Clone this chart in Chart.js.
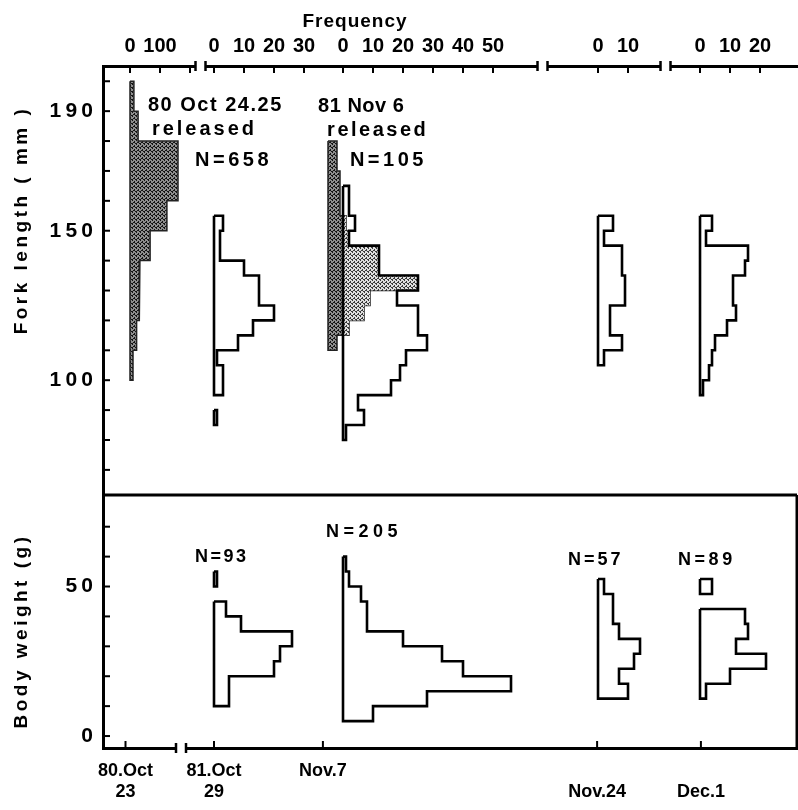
<!DOCTYPE html>
<html>
<head>
<meta charset="utf-8">
<script src="https://cdn.jsdelivr.net/npm/chart.js@4.4.1/dist/chart.umd.min.js"></script>
<style>
  body { margin: 0; background: #fff; }
  canvas { display: block; }
</style>
</head>
<body>
<canvas id="grafico" width="798" height="810"></canvas>
<script>

// Fork length frequencies, top class first
const oct24Len = [13, 27, 160, 160, 123, 67, 33, 30, 22, 10];            // 10 mm classes, from 200 mm
const oct29Len = [3, 2, 2, 10, 15, 15, 20, 13, 8, 1, 3, 3, 0, 1];         // 5 mm classes, from 155 mm
const nov6Len = [3, 3, 4, 4, 4, 6, 7, 17, 17, 30, 14, 12, 7, 3];          // released fish, from 180 mm
const nov7Len = [2, 2, 4, 2, 12, 12, 25, 18, 25, 25, 28, 21, 19, 16, 5, 7, 1]; // from 165 mm
const nov24Len = [5, 2, 8, 8, 9, 9, 4, 4, 8, 2];                          // from 155 mm
const dec1Len = [4, 2, 16, 15, 11, 11, 12, 9, 5, 4, 3, 1];                // from 155 mm

const oct24Top = 200, oct29Top = 155, nov6Top = 180, nov7Top = 165, nov24Top = 155, dec1Top = 155;

// Body weight frequencies, 5 g classes, top class first
const oct29Wt = [1, 0, 4, 9, 26, 22, 20, 5, 5];          // from 55 g
const nov7Wt = [1, 2, 6, 8, 8, 20, 33, 40, 56, 28, 10];  // from 60 g
const nov24Wt = [2, 5, 5, 7, 14, 12, 7, 10];             // from 52.5 g
const dec1Wt = [4, 0, 15, 16, 12, 22, 10, 2];            // from 52.5 g

const oct29WtTop = 55, nov7WtTop = 60, nov24WtTop = 52.5, dec1WtTop = 52.5;

// axes
const lenTicks = [70, 80, 90, 100, 110, 120, 130, 140, 150, 160, 170, 180, 190, 200];
const lenLabels = [190, 150, 100];
const wtTicks = [0, 10, 20, 30, 40, 50, 60, 70];
const wtLabels = [50, 0];
const freqTicks = [[0, 100, 200], [0, 10, 20, 30], [0, 10, 20, 30, 40, 50], [0, 10], [0, 10, 20]];
const freqUnlabelled = [200];
const dateLabels = [['80.Oct', '23'], ['81.Oct', '29'], 'Nov.7', ['', 'Nov.24'], ['', 'Dec.1']];

const topNotes = ['80 Oct 24.25', 'released', 'N=658', '81 Nov 6', 'released', 'N=105'];
const bottomNotes = ['N=93', 'N=205', 'N=57', 'N=89'];

// layout: x is in frequency units, 3 px each
const xMax = 231.33;
const zero = [9, 37, 80, 165, 199];   // where count 0 sits for each sample
const unit = [0.1, 1, 1, 1, 1];       // released stock drawn at 1/10
const releasedZero = 75;
const dateShift = [-1.5, 0, -6.7, -0.3, 0.3];
const breaksTop = [32.5, 146.5, 187.5];
const breaksBottom = [26];
const lenRange = [61.6, 205.1];
const wtRange = [-4, 80.6];
const topNoteAt = [[15, 192], [16.3, 184], [30.7, 173.6], [71.7, 191.7], [74.7, 183.4], [82.3, 173.6]];
const topNoteSpacing = [1.5, 3, 3.5, 0.5, 2.5, 3.5];
const bottomNoteAt = [[30.7, 59.9], [74.3, 68.2], [155, 58.9], [191.7, 58.9]];
const bottomNoteSpacing = [2.5, 4.5, 3, 3.5];

const FONT = '"Liberation Sans", Arial, sans-serif';


function stipple(bg, fg) {
    const c = document.createElement('canvas');
    c.width = c.height = 4;
    const g = c.getContext('2d');
    g.fillStyle = bg;
    g.fillRect(0, 0, 4, 4);
    g.fillStyle = fg;
    [[0, 0], [2, 1], [1, 2], [3, 3], [0, 3], [2, 2]].forEach(p => g.fillRect(p[0], p[1], 1, 1));
    return g.createPattern(c, 'repeat');
}
const dark = stipple('#8e8e8e', '#141414');
const light = stipple('#dedede', '#3a3a3a');


// stepped outline of a sideways histogram; empty classes split it in pieces
function outline(counts, top, w, base, k) {
    const segs = [];
    let seg = null, start = 0, end = 0;
    const close = () => {
        seg.push({x: base, y: end}, {x: base, y: start});
        segs.push(seg);
        seg = null;
    };
    counts.forEach((c, i) => {
        const hi = top - i * w, lo = hi - w;
        if (!c) { if (seg) close(); return; }
        if (!seg) { seg = [{x: base, y: hi}]; start = hi; }
        seg.push({x: base + c * k, y: hi}, {x: base + c * k, y: lo});
        end = lo;
    });
    if (seg) close();
    return segs;
}

function hist(counts, top, w, base, k, yAxisID, style) {
    return outline(counts, top, w, base, k).map(pts => Object.assign({
        data: pts,
        xAxisID: 'x',
        yAxisID: yAxisID,
        showLine: true,
        pointRadius: 0,
        tension: 0,
        fill: false,
        borderColor: '#000',
        borderWidth: 2.6,
        borderJoinStyle: 'miter',
        order: 1
    }, style || {}));
}

const shaded = {fill: 'shape', backgroundColor: dark, borderColor: '#222', borderWidth: 1.5, order: 3};
const overlap = nov6Len.map(c => Math.max(0, c - (zero[2] - releasedZero)));

const datasets = [].concat(
    hist(oct24Len, oct24Top, 10, zero[0], unit[0], 'y', shaded),
    hist(nov6Len, nov6Top, 5, releasedZero, 1, 'y', shaded),
    hist(overlap, nov6Top, 5, zero[2], 1, 'y', {fill: 'shape', backgroundColor: light, borderWidth: 0, order: 2}),
    hist(oct29Len, oct29Top, 5, zero[1], unit[1], 'y'),
    hist(nov7Len, nov7Top, 5, zero[2], unit[2], 'y'),
    hist(nov24Len, nov24Top, 5, zero[3], unit[3], 'y'),
    hist(dec1Len, dec1Top, 5, zero[4], unit[4], 'y'),
    hist(oct29Wt, oct29WtTop, 5, zero[1], unit[1], 'y2'),
    hist(nov7Wt, nov7WtTop, 5, zero[2], unit[2], 'y2'),
    hist(nov24Wt, nov24WtTop, 5, zero[3], unit[3], 'y2'),
    hist(dec1Wt, dec1WtTop, 5, zero[4], unit[4], 'y2')
);

const topTicks = [];
freqTicks.forEach((list, p) => list.forEach(t => {
    topTicks.push({value: zero[p] + t * unit[p], label: freqUnlabelled.includes(t) && p === 0 ? '' : String(t)});
}));

const spaced = v => String(v).split('').join('\u2009');

const tickFont = {family: FONT, weight: 'bold', size: 21};
const noGrid = {drawOnChartArea: false, drawTicks: false};
const axisBorder = {display: true, color: '#000', width: 3};


const frame = {
    id: 'frame',
    afterDraw(chart) {
        const {ctx, chartArea: a} = chart;
        const {x, xTop, y, y2} = chart.scales;
        const line = (x1, y1, x2, y2_) => {
            ctx.beginPath(); ctx.moveTo(x1, y1); ctx.lineTo(x2, y2_); ctx.stroke();
        };
        const text = (s, px, py, size, spacing) => {
            ctx.font = 'bold ' + size + 'px ' + FONT;
            ctx.letterSpacing = spacing + 'px';
            ctx.fillText(s, px, py);
        };
        ctx.save();
        ctx.strokeStyle = '#000';
        ctx.fillStyle = '#000';

        // divider between the panels, right edge of the lower one
        ctx.lineWidth = 3;
        line(a.left, y.bottom, a.right, y.bottom);
        line(a.right, y2.top, a.right, y2.bottom);

        // ticks pointing inwards
        ctx.lineWidth = 2;
        xTop.ticks.forEach(t => { const p = xTop.getPixelForValue(t.value); line(p, a.top, p, a.top + 7); });
        x.ticks.forEach(t => { const p = x.getPixelForValue(t.value); line(p, a.bottom, p, a.bottom - 7); });
        y.ticks.forEach(t => { const p = y.getPixelForValue(t.value); line(a.left, p, a.left + 7, p); });
        y2.ticks.forEach(t => { const p = y2.getPixelForValue(t.value); line(a.left, p, a.left + 7, p); });

        // axis breaks
        const brk = (p, py) => {
            ctx.fillStyle = '#fff';
            ctx.fillRect(p - 5, py - 3, 10, 6);
            ctx.fillStyle = '#000';
            ctx.lineWidth = 2.5;
            line(p - 5, py - 5, p - 5, py + 5);
            line(p + 5, py - 5, p + 5, py + 5);
        };
        breaksTop.forEach(v => brk(xTop.getPixelForValue(v), a.top));
        breaksBottom.forEach(v => brk(x.getPixelForValue(v), a.bottom));

        // labels
        ctx.textBaseline = 'middle';
        ctx.textAlign = 'left';
        topNotes.forEach((s, i) => text(s, x.getPixelForValue(topNoteAt[i][0]), y.getPixelForValue(topNoteAt[i][1]), 20, topNoteSpacing[i]));
        bottomNotes.forEach((s, i) => text(s, x.getPixelForValue(bottomNoteAt[i][0]), y2.getPixelForValue(bottomNoteAt[i][1]), 18, bottomNoteSpacing[i]));

        ctx.textAlign = 'center';
        text('Frequency', 355, 22, 19, 1);

        ctx.translate(22, 220);
        ctx.rotate(-Math.PI / 2);
        text('Fork length ( mm )', 0, 0, 19, 3.5);
        ctx.rotate(Math.PI / 2);
        ctx.translate(0, 411);
        ctx.rotate(-Math.PI / 2);
        text('Body weight (g)', 0, 0, 19, 3.5);
        ctx.restore();
    }
};


// left-hand stacked scales are laid out bottom-up, so the weight axis comes first
new Chart(document.getElementById('grafico'), {
    type: 'scatter',
    data: {datasets: datasets},
    options: {
        responsive: false,
        animation: false,
        events: [],
        layout: {padding: {right: 1}},
        plugins: {
            legend: {display: false},
            tooltip: {enabled: false}
        },
        scales: {
            x: {
                type: 'linear',
                position: 'bottom',
                min: 0,
                max: xMax,
                grid: noGrid,
                border: axisBorder,
                afterFit: s => { s.height = 62; },
                afterBuildTicks: s => { s.ticks = zero.map((z, i) => ({value: z + dateShift[i]})); },
                ticks: {
                    autoSkip: false,
                    maxRotation: 0,
                    padding: 13,
                    color: '#000',
                    font: {family: FONT, weight: 'bold', size: 18, lineHeight: 1.15},
                    callback: (v, i) => dateLabels[i]
                }
            },
            xTop: {
                type: 'linear',
                position: 'top',
                min: 0,
                max: xMax,
                grid: noGrid,
                border: axisBorder,
                afterFit: s => { s.height = 66; },
                afterBuildTicks: s => { s.ticks = topTicks.map(t => ({value: t.value})); },
                ticks: {
                    autoSkip: false,
                    maxRotation: 0,
                    padding: 8,
                    color: '#000',
                    font: {family: FONT, weight: 'bold', size: 20},
                    callback: (v, i) => topTicks[i].label
                }
            },
            y2: {
                type: 'linear',
                position: 'left',
                stack: 'panels',
                stackWeight: 253,
                min: wtRange[0],
                max: wtRange[1],
                grid: noGrid,
                border: axisBorder,
                afterFit: s => { s.width = 103; },
                afterBuildTicks: s => { s.ticks = wtTicks.map(v => ({value: v})); },
                ticks: {
                    autoSkip: false,
                    padding: 10,
                    color: '#000',
                    font: tickFont,
                    callback: v => wtLabels.includes(v) ? spaced(v) : ''
                }
            },
            y: {
                type: 'linear',
                position: 'left',
                stack: 'panels',
                stackWeight: 429,
                min: lenRange[0],
                max: lenRange[1],
                grid: noGrid,
                border: axisBorder,
                afterFit: s => { s.width = 103; },
                afterBuildTicks: s => { s.ticks = lenTicks.map(v => ({value: v})); },
                ticks: {
                    autoSkip: false,
                    padding: 10,
                    color: '#000',
                    font: tickFont,
                    callback: v => lenLabels.includes(v) ? spaced(v) : ''
                }
            }
        }
    },
    plugins: [frame]
});
</script>
</body>
</html>
